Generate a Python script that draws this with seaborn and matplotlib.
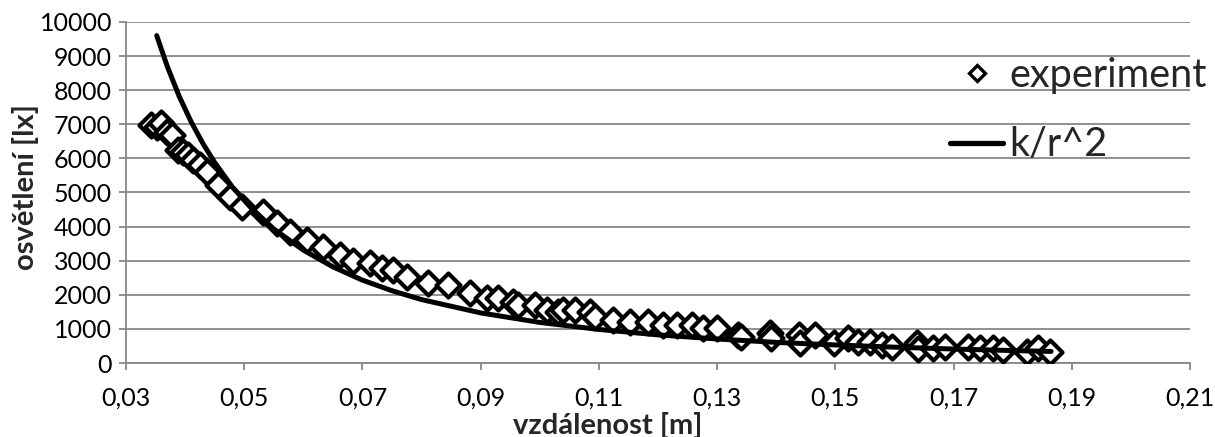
import matplotlib
matplotlib.use("Agg")
import matplotlib.pyplot as plt
import seaborn as sns
import pandas as pd
from matplotlib.lines import Line2D

# Experimental data (distance [m], illuminance [lx])
exp_x = [0.0343, 0.0352, 0.0360, 0.0369, 0.0377, 0.0388, 0.0397, 0.0405, 0.0413, 0.0425,
         0.0437, 0.0456, 0.0476, 0.0496, 0.0532, 0.0555, 0.0577, 0.0606, 0.0634, 0.0662,
         0.0684, 0.0713, 0.0733, 0.0752, 0.0775, 0.0811, 0.0845, 0.0882, 0.0910, 0.0930,
         0.0955, 0.0963, 0.0992, 0.1012, 0.1031, 0.1040, 0.1060, 0.1085, 0.1094, 0.1124,
         0.1153, 0.1183, 0.1209, 0.1232, 0.1257, 0.1276, 0.1299, 0.1336, 0.1340, 0.1390,
         0.1392, 0.1438, 0.1440, 0.1466, 0.1497, 0.1522, 0.1539, 0.1559, 0.1579, 0.1596,
         0.1638, 0.1640, 0.1666, 0.1686, 0.1725, 0.1745, 0.1767, 0.1784, 0.1824, 0.1843,
         0.1863]
exp_y = [6980, 6930, 7050, 6780, 6690, 6250, 6200, 6100, 5950, 5800,
         5610, 5220, 4880, 4580, 4440, 4100, 3850, 3600, 3410, 3170,
         2990, 2930, 2780, 2730, 2530, 2340, 2290, 2050, 1900, 1900,
         1800, 1700, 1700, 1550, 1500, 1550, 1550, 1500, 1360, 1260,
         1210, 1210, 1110, 1110, 1110, 1020, 1020, 820, 750, 880,
         730, 820, 580, 820, 590, 730, 620, 620, 530, 480,
         580, 400, 440, 480, 480, 440, 440, 380, 330, 440,
         330]

# Model curve k/r^2
fit_x = [0.0352, 0.037, 0.039, 0.041, 0.043, 0.045, 0.048, 0.051, 0.055, 0.060,
         0.065, 0.070, 0.075, 0.080, 0.090, 0.100, 0.110, 0.120, 0.130, 0.140,
         0.150, 0.160, 0.170, 0.180, 0.1865]
fit_y = [9600, 8690, 7820, 7080, 6440, 5880, 5160, 4580, 3930, 3310,
         2820, 2430, 2120, 1860, 1470, 1190, 985, 825, 705, 605,
         530, 465, 410, 365, 340]

x_ticks = [0.03, 0.05, 0.07, 0.09, 0.11, 0.13, 0.15, 0.17, 0.19, 0.21]
x_tick_labels = ["0,03", "0,05", "0,07", "0,09", "0,11", "0,13", "0,15", "0,17", "0,19", "0,21"]
y_ticks = list(range(0, 10001, 1000))

sns.set_theme(style="white")
plt.rcParams['font.family'] = ['Lato', 'DejaVu Sans']

grey = "#878787"
fig = plt.figure(figsize=(12.15, 4.37), dpi=100)
ax = fig.add_axes([0.1037, 0.1693, 0.8757, 0.7804])

df_exp = pd.DataFrame({"x": exp_x, "y": exp_y})
df_fit = pd.DataFrame({"x": fit_x, "y": fit_y})

sns.scatterplot(data=df_exp, x="x", y="y", marker="D", s=150, facecolor="white",
                edgecolor="black", linewidth=3.0, ax=ax, zorder=3, legend=False)
sns.lineplot(data=df_fit, x="x", y="y", color="black", linewidth=3.6, ax=ax,
             zorder=4, sort=False, legend=False, estimator=None)

ax.set_xlim(0.03, 0.21)
ax.set_ylim(0, 10000)
ax.set_xticks(x_ticks)
ax.set_xticklabels(x_tick_labels)
ax.set_yticks(y_ticks)
ax.yaxis.grid(True, color=grey, linewidth=1.3)
ax.set_axisbelow(True)

for s in ["top", "right"]:
    ax.spines[s].set_visible(False)
for s in ["left", "bottom"]:
    ax.spines[s].set_color(grey)
    ax.spines[s].set_linewidth(1.3)

ax.tick_params(axis="both", which="major", direction="out", length=5, width=1.3,
               color=grey, labelsize=18, labelcolor="black", pad=5)
ax.tick_params(axis="x", pad=12)
ax.tick_params(bottom=True, left=True)

ax.set_xlabel("vzdálenost [m]", fontsize=21, fontweight="bold", ha="left", va="top")
ax.xaxis.set_label_coords((513 - 126) / 1064, (363 - 412) / 341)
ax.set_ylabel("osvětlení [lx]", fontsize=21, fontweight="bold", va="center")
ax.yaxis.set_label_coords((26 - 126) / 1064, (363 - 187) / 341)

handles = [
    Line2D([], [], linestyle="none", marker="D", markersize=8, markerfacecolor="white",
           markeredgecolor="black", markeredgewidth=2.4),
    Line2D([], [], color="black", linewidth=3.8),
]
ax.legend(handles, ["experiment", "k/r^2"], loc="upper left",
          bbox_to_anchor=(950 / 1215, 1 - 57 / 437), bbox_transform=fig.transFigure,
          frameon=False, fontsize=28.5, handlelength=1.34, handletextpad=0.15,
          labelspacing=0.82, borderpad=0, borderaxespad=0)

fig.savefig("out.png", dpi=100)
